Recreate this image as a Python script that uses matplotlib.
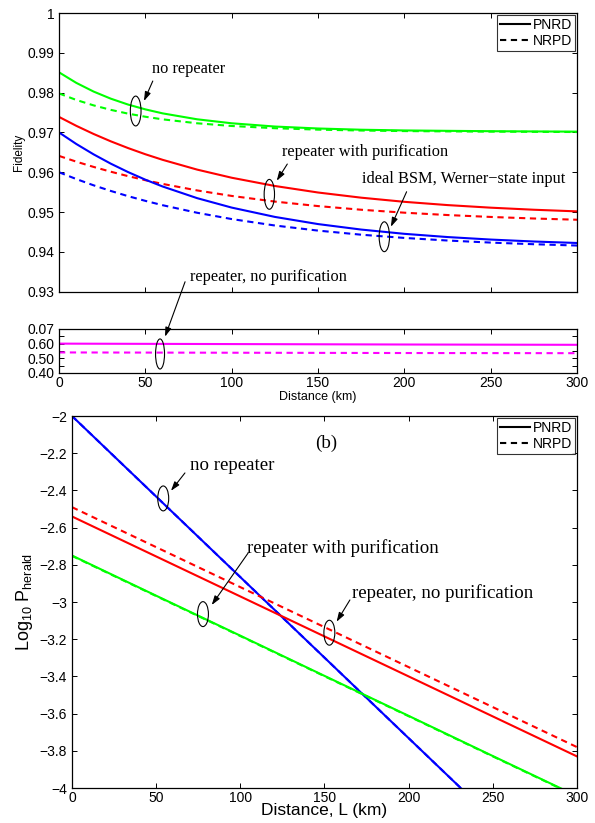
import matplotlib
matplotlib.use("Agg")
import matplotlib.pyplot as plt
from matplotlib.patches import Ellipse, ConnectionPatch

plt.rcParams['font.family'] = ['Liberation Sans', 'DejaVu Sans']
plt.rcParams['mathtext.fontset'] = 'custom'
plt.rcParams['mathtext.rm'] = 'Liberation Sans'
plt.rcParams['mathtext.it'] = 'Liberation Sans:italic'

# ---------------- data ----------------
dist_fid = [0, 10, 20, 30, 40, 50, 60, 80, 100, 125, 150, 175, 200, 225, 250, 275, 300]
fid_norep_pnrd = [0.9851, 0.98245, 0.98027, 0.97848, 0.97700, 0.97579, 0.97479, 0.97330, 0.97230,
                  0.97148, 0.97099, 0.97068, 0.97050, 0.97040, 0.97031, 0.97025, 0.97020]
fid_norep_nrpd = [0.9798, 0.97816, 0.97680, 0.97567, 0.97472, 0.97394, 0.97329, 0.97230, 0.97162,
                  0.97106, 0.97070, 0.97048, 0.97034, 0.97026, 0.97020, 0.97015, 0.97010]
fid_pur_pnrd = [0.9739, 0.97166, 0.96962, 0.96776, 0.96607, 0.96452, 0.96312, 0.96066, 0.95862,
                0.95655, 0.95491, 0.95361, 0.95257, 0.95175, 0.95110, 0.95058, 0.95017]
fid_pur_nrpd = [0.9641, 0.96266, 0.96134, 0.96013, 0.95902, 0.95800, 0.95707, 0.95543, 0.95405,
                0.95263, 0.95150, 0.95058, 0.94984, 0.94925, 0.94877, 0.94838, 0.94807]
fid_ideal_pnrd = [0.9700, 0.96710, 0.96450, 0.96215, 0.96004, 0.95813, 0.95642, 0.95349, 0.95112,
                  0.94878, 0.94698, 0.94560, 0.94453, 0.94372, 0.94309, 0.94260, 0.94223]
fid_ideal_nrpd = [0.9600, 0.95829, 0.95672, 0.95530, 0.95399, 0.95281, 0.95172, 0.94982, 0.94824,
                  0.94662, 0.94534, 0.94431, 0.94350, 0.94285, 0.94233, 0.94192, 0.94159]

dist_mid = [0, 100, 200, 300]
fid_nopur_pnrd = [0.600, 0.597, 0.594, 0.592]
fid_nopur_nrpd = [0.540, 0.538, 0.536, 0.535]

dist_p = [0, 50, 100, 150, 200, 250, 300]
p_norep_pnrd = [-2.0, -2.433, -2.866, -3.299, -3.732, -4.165, -4.597]
p_norep_nrpd = [-2.0, -2.433, -2.866, -3.299, -3.732, -4.165, -4.597]
p_pur_pnrd = [-2.75, -2.966, -3.181, -3.397, -3.612, -3.828, -4.043]
p_pur_nrpd = [-2.752, -2.968, -3.183, -3.399, -3.614, -3.830, -4.045]
p_nopur_pnrd = [-2.54, -2.755, -2.97, -3.185, -3.40, -3.615, -3.83]
p_nopur_nrpd = [-2.49, -2.705, -2.92, -3.135, -3.35, -3.565, -3.78]

top_yticks = [0.93, 0.94, 0.95, 0.96, 0.97, 0.98, 0.99, 1.0]
top_yticklabels = ['0.93', '0.94', '0.95', '0.96', '0.97', '0.98', '0.99', '1']
mid_yticks = [0.40, 0.45, 0.50, 0.55, 0.60, 0.65, 0.70]
mid_yticklabels = ['0.40', '', '0.50', '', '0.60', '', '0.07']
xticks = [0, 50, 100, 150, 200, 250, 300]
bot_yticks = [-4, -3.8, -3.6, -3.4, -3.2, -3, -2.8, -2.6, -2.4, -2.2, -2]
bot_yticklabels = ['\u22124', '\u22123.8', '\u22123.6', '\u22123.4', '\u22123.2', '\u22123',
                   '\u22122.8', '\u22122.6', '\u22122.4', '\u22122.2', '\u22122']

GREEN = (0, 1, 0)
RED = (1, 0, 0)
BLUE = (0, 0, 1)
MAG = (1, 0, 1)
LW = 1.5
DASH = (3, 2.2)
SERIF = ['Liberation Serif', 'DejaVu Serif']

fig = plt.figure(figsize=(5.95, 8.23), dpi=100)
ax1 = fig.add_axes([0.0992, 0.6456, 0.8706, 0.3386])
ax2 = fig.add_axes([0.0992, 0.5468, 0.8706, 0.0535])
ax3 = fig.add_axes([0.1210, 0.0425, 0.8487, 0.4520])

def style(ax):
    ax.tick_params(direction='in', top=True, right=True, length=3.5, width=0.7, labelsize=10)
    for s in ax.spines.values():
        s.set_linewidth(0.9)

# ----- top panel -----
ax1.plot(dist_fid, fid_norep_pnrd, color=GREEN, lw=LW)
ax1.plot(dist_fid, fid_norep_nrpd, color=GREEN, lw=LW, dashes=DASH)
ax1.plot(dist_fid, fid_pur_pnrd, color=RED, lw=LW)
ax1.plot(dist_fid, fid_pur_nrpd, color=RED, lw=LW, dashes=DASH)
ax1.plot(dist_fid, fid_ideal_pnrd, color=BLUE, lw=LW)
ax1.plot(dist_fid, fid_ideal_nrpd, color=BLUE, lw=LW, dashes=DASH)
ax1.plot([], [], color='k', lw=LW, label='PNRD')
ax1.plot([], [], color='k', lw=LW, dashes=DASH, label='NRPD')
ax1.set_xlim(0, 300)
ax1.set_ylim(0.93, 1.0)
ax1.set_xticks(xticks)
ax1.set_xticklabels([])
ax1.set_yticks(top_yticks)
ax1.set_yticklabels(top_yticklabels)
ax1.set_ylabel('Fidelity', fontsize=8.5, labelpad=2)
style(ax1)
h, l = ax1.get_legend_handles_labels()
leg1 = ax1.legend(h, l, loc='upper right', fontsize=10, frameon=True, fancybox=False,
                  edgecolor='k', handlelength=2.2, handletextpad=0.2, borderpad=0.2,
                  labelspacing=0.15, borderaxespad=0.15)
leg1.get_frame().set_linewidth(0.8)

def ell(ax, x, y, w, h):
    ax.add_patch(Ellipse((x, y), w, h, fill=False, ec='k', lw=0.8, zorder=5))

def arrow(ax, tail, head):
    ax.annotate('', xy=head, xytext=tail,
                arrowprops=dict(arrowstyle='-|>,head_length=0.55,head_width=0.18',
                                color='k', lw=0.8, shrinkA=0, shrinkB=0))

fs_top = 11.8
ax1.text(53.7, 0.98593, 'no repeater', family=SERIF, fontsize=fs_top, va='center')
arrow(ax1, (54.3, 0.98291), (49.2, 0.97789))
ell(ax1, 44.4, 0.97538, 6.2, 0.0075)

ax1.text(129, 0.96515, 'repeater with purification', family=SERIF, fontsize=fs_top, va='center')
arrow(ax1, (132.2, 0.96206), (126.1, 0.95787))
ell(ax1, 121.8, 0.95445, 6.0, 0.0075)

ax1.text(175.3, 0.95829, 'ideal BSM, Werner\u2212state input', family=SERIF, fontsize=fs_top, va='center')
arrow(ax1, (201.3, 0.9551), (192.2, 0.9463))
ell(ax1, 188.4, 0.9438, 6.0, 0.0075)

ax1.text(75.9, 0.93374, 'repeater, no purification', family=SERIF, fontsize=fs_top, va='center')

# ----- middle panel -----
ax2.plot(dist_mid, fid_nopur_pnrd, color=MAG, lw=LW)
ax2.plot(dist_mid, fid_nopur_nrpd, color=MAG, lw=LW, dashes=DASH)
ax2.set_xlim(0, 300)
ax2.set_ylim(0.40, 0.70)
ax2.set_xticks(xticks)
ax2.set_yticks(mid_yticks)
ax2.set_yticklabels(mid_yticklabels)
ax2.set_xlabel('Distance (km)', fontsize=9, labelpad=1)
style(ax2)
ax2.tick_params(axis='x', pad=2)
ell(ax2, 58.5, 0.5295, 5.2, 0.205)

con = ConnectionPatch(xyA=(73, 0.93249), coordsA=ax1.transData,
                      xyB=(61.4, 0.6475), coordsB=ax2.transData,
                      arrowstyle='-|>,head_length=0.55,head_width=0.18',
                      color='k', lw=0.8, shrinkA=0, shrinkB=0)
fig.add_artist(con)

# ----- bottom panel -----
ax3.plot(dist_p, p_norep_pnrd, color=BLUE, lw=LW)
ax3.plot(dist_p, p_norep_nrpd, color=BLUE, lw=LW, dashes=DASH)
ax3.plot(dist_p, p_pur_pnrd, color=GREEN, lw=LW)
ax3.plot(dist_p, p_pur_nrpd, color=GREEN, lw=LW, dashes=DASH)
ax3.plot(dist_p, p_nopur_pnrd, color=RED, lw=LW)
ax3.plot(dist_p, p_nopur_nrpd, color=RED, lw=LW, dashes=DASH)
ax3.plot([], [], color='k', lw=LW, label='PNRD')
ax3.plot([], [], color='k', lw=LW, dashes=DASH, label='NRPD')
ax3.set_xlim(0, 300)
ax3.set_ylim(-4, -2)
ax3.set_xticks(xticks)
ax3.set_yticks(bot_yticks)
ax3.set_yticklabels(bot_yticklabels)
ax3.set_xlabel('Distance, L (km)', fontsize=12.5, labelpad=-1)
ax3.set_ylabel('Log$_{10}$ P$_{\\mathrm{herald}}$', fontsize=13, labelpad=3)
style(ax3)
ax3.tick_params(axis='x', pad=2)
h, l = ax3.get_legend_handles_labels()
leg3 = ax3.legend(h, l, loc='upper right', fontsize=10, frameon=True, fancybox=False,
                  edgecolor='k', handlelength=2.2, handletextpad=0.2, borderpad=0.2,
                  labelspacing=0.15, borderaxespad=0.15)
leg3.get_frame().set_linewidth(0.8)

fs_bot = 13.6
ax3.text(150.9, -2.147, '(b)', family=SERIF, fontsize=fs_bot, ha='center', va='center')
ax3.text(70.1, -2.267, 'no repeater', family=SERIF, fontsize=fs_bot, va='center')
arrow(ax3, (67.1, -2.306), (58.8, -2.402))
ell(ax3, 54.2, -2.443, 6.5, 0.134)

ax3.text(103.8, -2.71, 'repeater with purification', family=SERIF, fontsize=fs_bot, va='center')
arrow(ax3, (104.6, -2.737), (83.0, -3.016))
ell(ax3, 77.8, -3.065, 6.5, 0.134)

ax3.text(166.2, -2.954, 'repeater, no purification', family=SERIF, fontsize=fs_bot, va='center')
arrow(ax3, (165.1, -2.989), (157.2, -3.106))
ell(ax3, 152.9, -3.165, 6.5, 0.134)

fig.savefig('out.png', dpi=100)
